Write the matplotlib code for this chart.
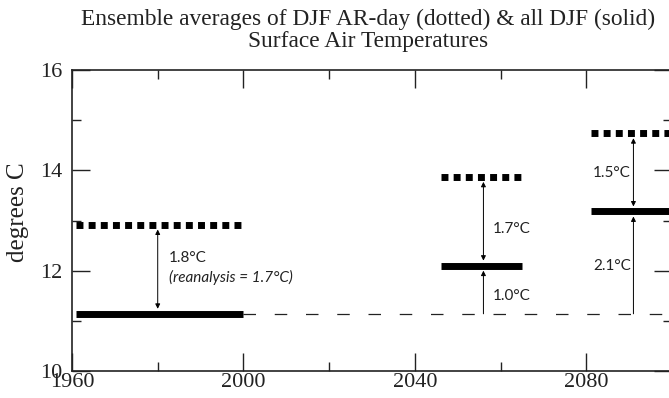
import matplotlib
matplotlib.use("Agg")
import matplotlib.pyplot as plt
from matplotlib.ticker import MultipleLocator

# ---- data ----
period_start = [1961, 2046, 2081]
period_end = [2000, 2065, 2100]
all_djf = [11.14, 12.10, 13.18]          # solid
ar_day = [12.92, 13.87, 14.74]           # dotted
arrow_x = [1980, 2056, 2091]
baseline = 11.14
baseline_span = [2000, 2100]
upper_labels = ["1.8\u00b0C", "1.7\u00b0C", "1.5\u00b0C"]
lower_labels = [None, "1.0\u00b0C", "2.1\u00b0C"]
reanalysis_label = "(reanalysis = 1.7\u00b0C)"
x_major = [1960, 2000, 2040, 2080]
y_major = [10, 12, 14, 16]

serif = "Liberation Serif"
sans = "Lato"

fig = plt.figure(figsize=(6.69, 3.98), dpi=100)
ax = fig.add_axes([72/669, 27/398, 600/669, 301/398])
ax.set_xlim(1960, 2100)
ax.set_ylim(10, 16)

# baseline dashed
ax.plot(baseline_span, [baseline, baseline], color="#222222", lw=0.9,
        linestyle=(0, (10, 15)), zorder=1)

for s, e, a, d in zip(period_start, period_end, all_djf, ar_day):
    ax.plot([s, e], [a, a], color="black", lw=5, solid_capstyle="butt", zorder=3)
    ax.plot([s, e], [d, d], color="black", lw=5, linestyle=(0, (1, 0.75)),
            dash_capstyle="butt", zorder=3)

arrow_kw = dict(color="black", lw=0.7, mutation_scale=7)
for i, x in enumerate(arrow_x):
    ax.annotate("", xy=(x, ar_day[i]), xytext=(x, all_djf[i]),
                arrowprops=dict(arrowstyle="<|-|>", shrinkA=3.6, shrinkB=3.6, **arrow_kw))
    if lower_labels[i] is not None:
        ax.annotate("", xy=(x, all_djf[i]), xytext=(x, baseline),
                    arrowprops=dict(arrowstyle="-|>", shrinkA=0, shrinkB=3.6, **arrow_kw))

txt = dict(fontsize=11, family=sans, va="center", ha="left", color="#222222")
ax.text(1982.6, 12.26, upper_labels[0], **txt)
ax.text(1982.6, 11.86, reanalysis_label, style="italic", **txt)
ax.text(2058.2, 12.84, upper_labels[1], **txt)
ax.text(2058.2, 11.50, lower_labels[1], **txt)
ax.text(2081.6, 13.94, upper_labels[2], **txt)
ax.text(2081.6, 12.10, lower_labels[2], **txt)

# axes styling
ax.set_xticks(x_major)
ax.set_yticks(y_major)
ax.xaxis.set_minor_locator(MultipleLocator(20))
ax.yaxis.set_minor_locator(MultipleLocator(1))
ax.tick_params(which="both", direction="in", top=True, right=True, width=1.0, color="#222222")
ax.tick_params(which="major", length=13)
ax.tick_params(which="minor", length=6.5)
ax.tick_params(axis="x", which="major", pad=1.5, labelsize=16)
ax.tick_params(axis="y", which="major", pad=7, labelsize=16)
for lab in ax.get_xticklabels() + ax.get_yticklabels():
    lab.set_family(serif)
    lab.set_color("#222222")
for sp in ax.spines.values():
    sp.set_linewidth(1.2)
    sp.set_color("#222222")

fig.text(368/669, 1 - 19/398, "Ensemble averages of DJF AR-day (dotted) & all DJF (solid)",
         ha="center", va="center", family=serif, fontsize=16.8, color="#222222")
fig.text(368/669, 1 - 42/398, "Surface Air Temperatures",
         ha="center", va="center", family=serif, fontsize=16.8, color="#222222")
fig.text(18/669, 1 - 212/398, "degrees C", rotation=90, ha="center", va="center",
         family=serif, fontsize=18, color="#222222")

fig.savefig("out.png", dpi=100)
